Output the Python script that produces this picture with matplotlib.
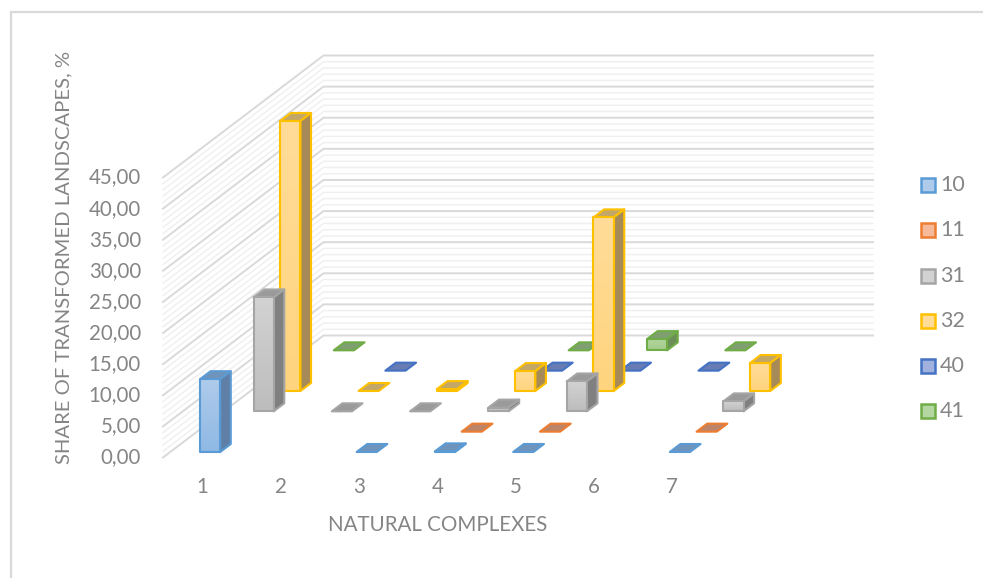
import numpy as np
import matplotlib
matplotlib.use("Agg")
import matplotlib.pyplot as plt
from matplotlib.patches import Polygon
from matplotlib.colors import to_rgb

# ---- data (None = no bar drawn) ----
categories = ["1", "2", "3", "4", "5", "6", "7"]
series_names = ["10", "11", "31", "32", "40", "41"]
s10 = [11.7, None, 0.0, 0.1, 0.0, None, 0.0]
s11 = [None, None, None, 0.0, 0.0, None, 0.0]
s31 = [18.3, 0.0, 0.0, 0.6, 4.8, None, 1.6]
s32 = [43.4, 0.0, 0.3, 3.2, 27.9, None, 4.5]
s40 = [None, 0.0, None, 0.0, 0.0, 0.0, None]
s41 = [0.0, None, None, 0.0, 1.8, 0.0, None]
series_values = [s10, s11, s31, s32, s40, s41]
y_ticks = [0, 5, 10, 15, 20, 25, 30, 35, 40, 45]
y_tick_labels = ["0,00", "5,00", "10,00", "15,00", "20,00", "25,00", "30,00", "35,00", "40,00", "45,00"]

# ---- styles ----
edge = ["#5B9BD5", "#ED7D31", "#A5A5A5", "#FFC000", "#4472C4", "#70AD47"]
front_top = ["#AECBEB", "#F6B99A", "#D2D2D2", "#FFDC98", "#A0B1DE", "#B4D6A0"]
front_bot = ["#8FB9E4", "#F3A57F", "#BDBDBD", "#FFD47E", "#8CA2D6", "#A2CC8A"]
top_col = ["#6F94BC", "#BC8468", "#9A9A9A", "#C2A767", "#667CB2", "#7F9F70"]
side_col = ["#5F7FA6", "#A06C50", "#808080", "#A68B58", "#52699B", "#6C8E58"]
TXT = "#858585"
plt.rcParams["font.family"] = ["Lato", "DejaVu Sans"]

# ---- oblique projection, in image pixels ----
X0, Y0 = 163.0, 457.5      # front-left floor corner of plot box
CAT_W = 78.3               # one category along x
DEPTH = (160.5, -122.0)    # whole floor depth
UNIT = 280.0 / 45.0        # px per value unit
BAR_X0, BAR_Y0 = 37.0, -5.5  # bar offset inside first cell
BAR_W = 20.2
BAR_D = (10.6, -8.0)
ROW = (DEPTH[0] / 6, DEPTH[1] / 6)
XMAX = 873.0


def wall(z):
    return Y0 - z * UNIT


fig = plt.figure(figsize=(9.83, 5.78), dpi=100)
ax = fig.add_axes([0, 0, 1, 1])
ax.set_axis_off()
ax.set_xlim(0, 983)
ax.set_ylim(578, 0)

# chart frame
ax.plot([11, 11, 983], [578, 12, 12], color="#D9D9D9", lw=1.6, zorder=1, solid_joinstyle="miter")

# walls: minor then major grid lines
for z in np.arange(0, 46, 1):
    if z % 5 == 0:
        continue
    y = wall(z)
    ax.plot([X0, X0 + DEPTH[0], XMAX], [y, y + DEPTH[1], y + DEPTH[1]], color="#EFEFEF", lw=1.0, zorder=2)
for z in y_ticks:
    y = wall(z)
    ax.plot([X0, X0 + DEPTH[0], XMAX], [y, y + DEPTH[1], y + DEPTH[1]], color="#D9D9D9", lw=1.4, zorder=3)

# bars: back rows first
zo = 10
for r in range(len(series_values) - 1, -1, -1):
    for c, v in enumerate(series_values[r]):
        if v is None:
            continue
        zo += 1
        xl = X0 + BAR_X0 + c * CAT_W + r * ROW[0]
        yb = Y0 + BAR_Y0 + r * ROW[1]
        yt = yb - v * UNIT
        xr = xl + BAR_W
        dx, dy = BAR_D
        kw = dict(closed=True, ec=edge[r], lw=1.5, joinstyle="round", zorder=zo)
        ax.add_patch(Polygon([(xl, yt), (xr, yt), (xr + dx, yt + dy), (xl + dx, yt + dy)], fc=top_col[r], **kw))
        if v > 0:
            ax.add_patch(Polygon([(xr, yt), (xr + dx, yt + dy), (xr + dx, yb + dy), (xr, yb)], fc=side_col[r], **kw))
            face = Polygon([(xl, yt), (xr, yt), (xr, yb), (xl, yb)], fc="none", ec="none", zorder=zo)
            ax.add_patch(face)
            c1, c2 = np.array(to_rgb(front_top[r])), np.array(to_rgb(front_bot[r]))
            grad = np.linspace(0, 1, 32)[:, None, None] * (c2 - c1) + c1
            im = ax.imshow(grad, extent=(xl, xr, yb, yt), aspect="auto", zorder=zo, interpolation="bilinear")
            im.set_clip_path(face)
            ax.add_patch(Polygon([(xl, yt), (xr, yt), (xr, yb), (xl, yb)], fc="none", **kw))
ax.set_xlim(0, 983)
ax.set_ylim(578, 0)

# tick labels
for z, lab in zip(y_ticks, y_tick_labels):
    ax.text(141, wall(z), lab, ha="right", va="center", color=TXT, fontsize=14.8)
for c, lab in enumerate(categories):
    ax.text(X0 + 39.5 + c * CAT_W, 487, lab, ha="center", va="center", color=TXT, fontsize=14.8)

# axis titles
ax.text(438, 525, "NATURAL COMPLEXES", ha="center", va="center", color=TXT, fontsize=14.8)
ax.text(64, 257.5, "SHARE OF TRANSFORMED LANDSCAPES, %", ha="center", va="center", rotation=90, color=TXT, fontsize=14.6)

# legend
leg_y = [185, 230, 276, 321, 366, 411]
for r, name in enumerate(series_names):
    y = leg_y[r]
    ax.add_patch(Polygon([(921, y - 7), (935, y - 7), (935, y + 7), (921, y + 7)], closed=True,
                         fc=front_top[r], ec=edge[r], lw=1.8, zorder=5))
    ax.text(940, y, name, ha="left", va="center", color=TXT, fontsize=15.5)

fig.savefig("out.png", dpi=100)
